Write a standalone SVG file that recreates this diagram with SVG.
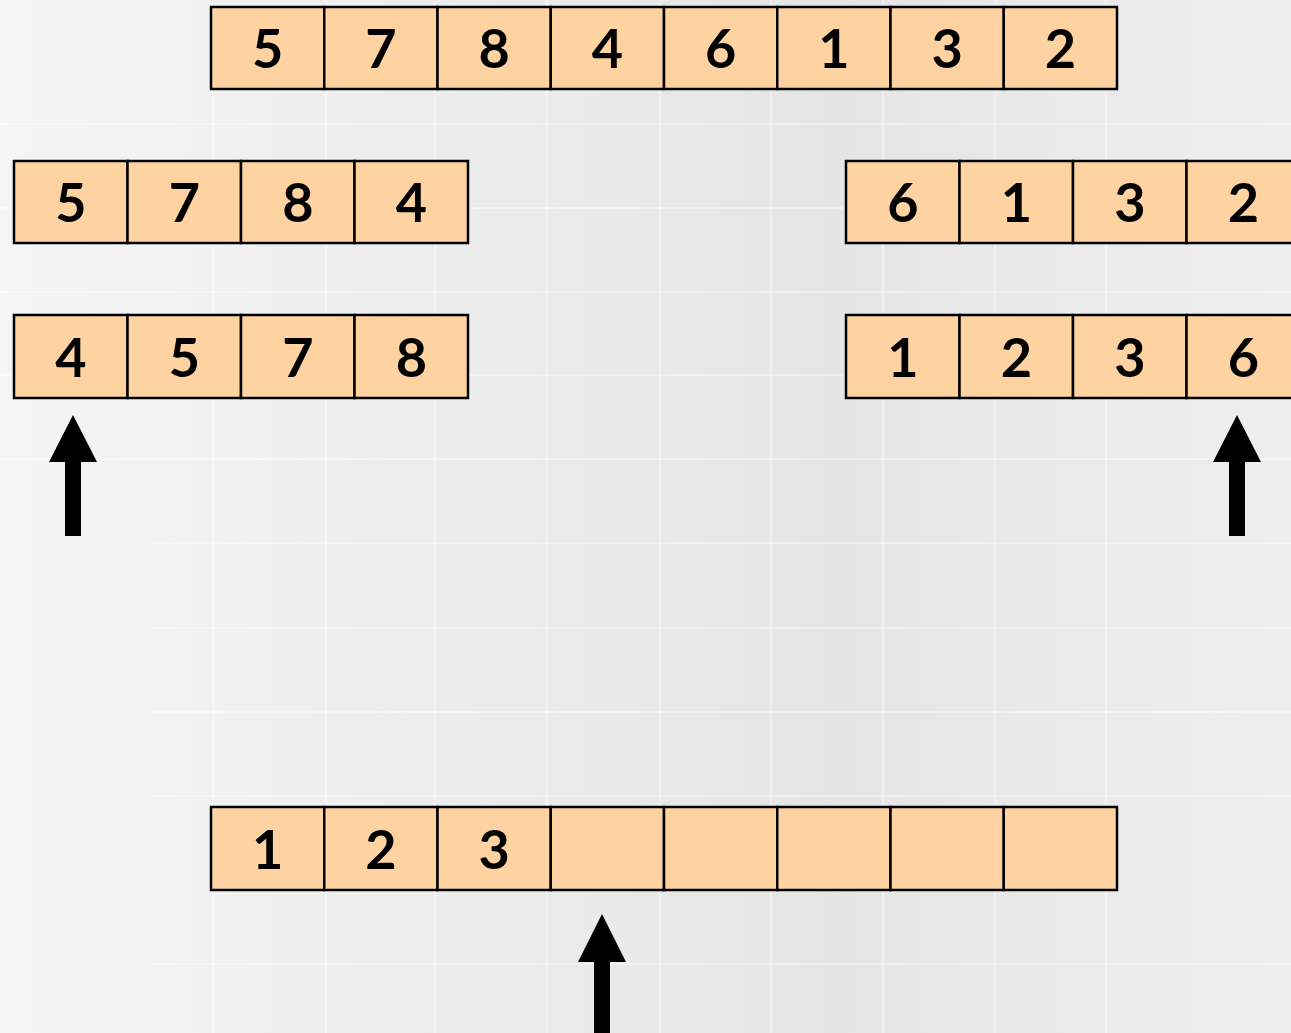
<svg xmlns="http://www.w3.org/2000/svg" width="1291" height="1033" viewBox="0 0 1291 1033">
<defs>
<linearGradient id="bg" x1="0" y1="0" x2="1" y2="0">
<stop offset="0" stop-color="#f5f5f5"/>
<stop offset="0.65" stop-color="#e5e5e5"/>
<stop offset="1" stop-color="#efefef"/>
</linearGradient>
<style>
.c{fill:#fed3a1;stroke:#000;stroke-width:2.5}
.t{font-family:Lato,"Open Sans",sans-serif;font-weight:bold;font-size:54px;fill:#000;text-anchor:middle}
.g{stroke:#fff;stroke-width:2;opacity:0.4}
.a{fill:#000}
</style>
</defs>
<rect width="1291" height="1033" fill="url(#bg)"/>
<g id="grid">
<line class="g" x1="213" y1="0" x2="213" y2="1033"/>
<line class="g" x1="326" y1="0" x2="326" y2="1033"/>
<line class="g" x1="435" y1="0" x2="435" y2="1033"/>
<line class="g" x1="547" y1="0" x2="547" y2="1033"/>
<line class="g" x1="660" y1="0" x2="660" y2="1033"/>
<line class="g" x1="771" y1="0" x2="771" y2="1033"/>
<line class="g" x1="883" y1="0" x2="883" y2="1033"/>
<line class="g" x1="995" y1="0" x2="995" y2="1033"/>
<line class="g" x1="1106" y1="0" x2="1106" y2="1033"/>
<line class="g" x1="0" y1="124" x2="1291" y2="124"/>
<line class="g" x1="0" y1="208" x2="1291" y2="208"/>
<line class="g" x1="0" y1="292" x2="1291" y2="292"/>
<line class="g" x1="0" y1="375" x2="1291" y2="375"/>
<line class="g" x1="0" y1="459" x2="1291" y2="459"/>
<line class="g" x1="150" y1="543" x2="1291" y2="543"/>
<line class="g" x1="150" y1="628" x2="1291" y2="628"/>
<line class="g" x1="150" y1="712" x2="1291" y2="712"/>
<line class="g" x1="150" y1="796" x2="1291" y2="796"/>
<line class="g" x1="150" y1="964" x2="1291" y2="964"/>
</g>
<g id="row-top">
<rect class="c" x="211" y="7" width="113.25" height="82"/>
<rect class="c" x="324.25" y="7" width="113.25" height="82"/>
<rect class="c" x="437.5" y="7" width="113.25" height="82"/>
<rect class="c" x="550.75" y="7" width="113.25" height="82"/>
<rect class="c" x="664" y="7" width="113.25" height="82"/>
<rect class="c" x="777.25" y="7" width="113.25" height="82"/>
<rect class="c" x="890.5" y="7" width="113.25" height="82"/>
<rect class="c" x="1003.75" y="7" width="113.25" height="82"/>
<text class="t" x="267.6" y="68">5</text>
<text class="t" x="380.9" y="68">7</text>
<text class="t" x="494.1" y="68">8</text>
<text class="t" x="607.4" y="68">4</text>
<text class="t" x="720.6" y="68">6</text>
<text class="t" x="833.9" y="68">1</text>
<text class="t" x="947.1" y="68">3</text>
<text class="t" x="1060.4" y="68">2</text>
</g>
<g id="row-left-1">
<rect class="c" x="14" y="161" width="113.5" height="82"/>
<rect class="c" x="127.5" y="161" width="113.5" height="82"/>
<rect class="c" x="241" y="161" width="113.5" height="82"/>
<rect class="c" x="354.5" y="161" width="113.5" height="82"/>
<text class="t" x="70.8" y="222">5</text>
<text class="t" x="184.3" y="222">7</text>
<text class="t" x="297.8" y="222">8</text>
<text class="t" x="411.3" y="222">4</text>
</g>
<g id="row-right-1">
<rect class="c" x="846" y="161" width="113.5" height="82"/>
<rect class="c" x="959.5" y="161" width="113.5" height="82"/>
<rect class="c" x="1073" y="161" width="113.5" height="82"/>
<rect class="c" x="1186.5" y="161" width="113.5" height="82"/>
<text class="t" x="902.8" y="222">6</text>
<text class="t" x="1016.3" y="222">1</text>
<text class="t" x="1129.8" y="222">3</text>
<text class="t" x="1243.3" y="222">2</text>
</g>
<g id="row-left-2">
<rect class="c" x="14" y="315" width="113.5" height="83"/>
<rect class="c" x="127.5" y="315" width="113.5" height="83"/>
<rect class="c" x="241" y="315" width="113.5" height="83"/>
<rect class="c" x="354.5" y="315" width="113.5" height="83"/>
<text class="t" x="70.8" y="377">4</text>
<text class="t" x="184.3" y="377">5</text>
<text class="t" x="297.8" y="377">7</text>
<text class="t" x="411.3" y="377">8</text>
</g>
<g id="row-right-2">
<rect class="c" x="846" y="315" width="113.5" height="83"/>
<rect class="c" x="959.5" y="315" width="113.5" height="83"/>
<rect class="c" x="1073" y="315" width="113.5" height="83"/>
<rect class="c" x="1186.5" y="315" width="113.5" height="83"/>
<text class="t" x="902.8" y="377">1</text>
<text class="t" x="1016.3" y="377">2</text>
<text class="t" x="1129.8" y="377">3</text>
<text class="t" x="1243.3" y="377">6</text>
</g>
<g id="row-bottom">
<rect class="c" x="211" y="807" width="113.25" height="83"/>
<rect class="c" x="324.25" y="807" width="113.25" height="83"/>
<rect class="c" x="437.5" y="807" width="113.25" height="83"/>
<rect class="c" x="550.75" y="807" width="113.25" height="83"/>
<rect class="c" x="664" y="807" width="113.25" height="83"/>
<rect class="c" x="777.25" y="807" width="113.25" height="83"/>
<rect class="c" x="890.5" y="807" width="113.25" height="83"/>
<rect class="c" x="1003.75" y="807" width="113.25" height="83"/>
<text class="t" x="267.6" y="869">1</text>
<text class="t" x="380.9" y="869">2</text>
<text class="t" x="494.1" y="869">3</text>
</g>
<g id="connectors">
<path class="a" d="M73 415 L97 462 L81 462 L81 536 L65 536 L65 462 L49 462 Z"/>
<path class="a" d="M1237 415 L1261 462 L1245 462 L1245 536 L1229 536 L1229 462 L1213 462 Z"/>
<path class="a" d="M602 914 L626 962 L610 962 L610 1033 L594 1033 L594 962 L578 962 Z"/>
</g>
</svg>
